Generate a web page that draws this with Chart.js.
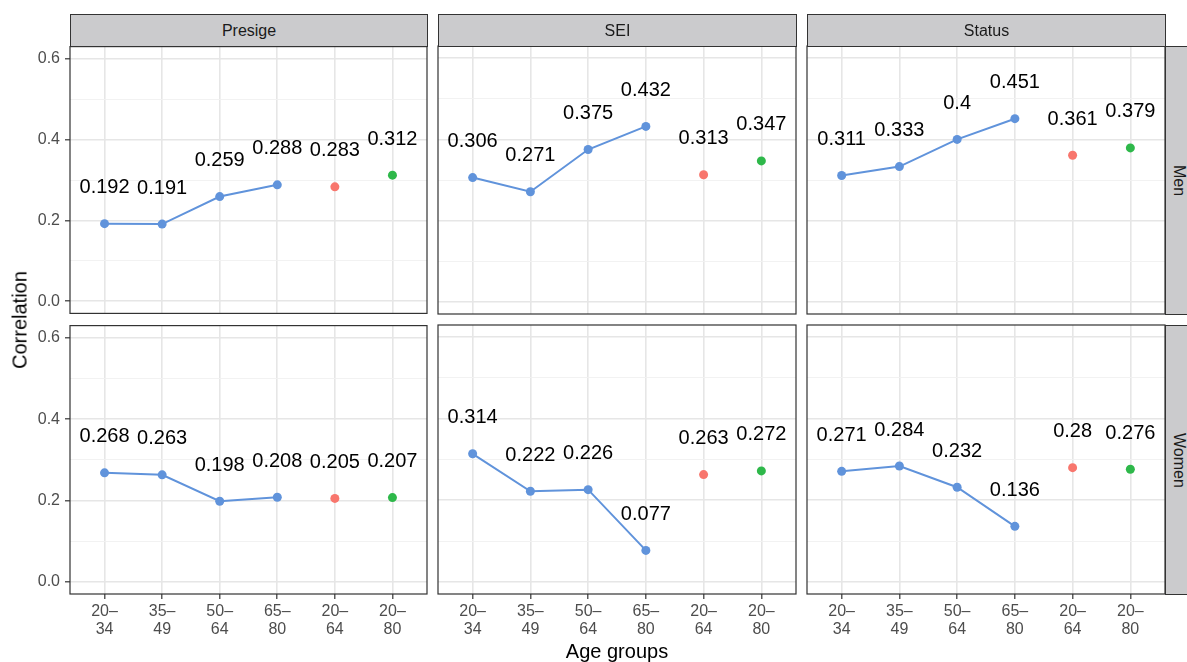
<!DOCTYPE html>
<html>
<head>
<meta charset="utf-8">
<script src="https://cdn.jsdelivr.net/npm/chart.js@4.4.1/dist/chart.umd.min.js"></script>
<style>
  body { margin: 0; width: 1187px; height: 662px; overflow: hidden; background: #fff;
         position: relative; font-family: "Liberation Sans", Arial, sans-serif; }
  canvas { position: absolute; }
  .strip { position: absolute; box-sizing: border-box; background: #cbcbcd;
           border: 1.2px solid #333; color: #1a1a1a; font-size: 16px;
           display: flex; align-items: center; justify-content: center; }
  .strip.row span { writing-mode: vertical-rl; }
  .axis-title { position: absolute; color: #000; font-size: 20px; white-space: nowrap; }
</style>
</head>
<body>
<script>
// ── Data
const AGE_GROUPS = ['20–34', '35–49', '50–64', '65–80', '20–64', '20–80'];
const MEASURES   = ['Presige', 'SEI', 'Status'];
const SEXES      = ['Men', 'Women'];

const MEN_PRESIGE   = [0.192, 0.191, 0.259, 0.288, 0.283, 0.312];
const MEN_SEI       = [0.306, 0.271, 0.375, 0.432, 0.313, 0.347];
const MEN_STATUS    = [0.311, 0.333, 0.4,   0.451, 0.361, 0.379];
const WOMEN_PRESIGE = [0.268, 0.263, 0.198, 0.208, 0.205, 0.207];
const WOMEN_SEI     = [0.314, 0.222, 0.226, 0.077, 0.263, 0.272];
const WOMEN_STATUS  = [0.271, 0.284, 0.232, 0.136, 0.28,  0.276];

const Y_GRID   = [0, 0.1, 0.2, 0.3, 0.4, 0.5, 0.6];
const Y_LABELS = [0, 0.2, 0.4, 0.6];

const ROWS = [
  [MEN_PRESIGE, MEN_SEI, MEN_STATUS],
  [WOMEN_PRESIGE, WOMEN_SEI, WOMEN_STATUS],
];

// ── Colours
const BLUE  = '#6093db';
const RED   = '#f8766d';
const GREEN = '#2eb84a';
const FONT  = '"Liberation Sans", Arial, sans-serif';

// ── Panel geometry (ggplot facet grid)
const PANEL_X = [70, 438, 807];
const PANEL_W = [357, 358, 358];
const PANEL_Y = [46, 325];
const PANEL_H = [268, 269];

// value text above each point
const valueLabels = {
  id: 'valueLabels',
  afterDatasetsDraw(chart) {
    const ctx = chart.ctx;
    ctx.save();
    ctx.font = '20px ' + FONT;
    ctx.fillStyle = '#000';
    ctx.textAlign = 'center';
    ctx.textBaseline = 'middle';
    chart.data.datasets.forEach((ds, i) => {
      chart.getDatasetMeta(i).data.forEach((pt, j) => {
        ctx.fillText(String(ds.data[j].y), pt.x, pt.y - 36);
      });
    });
    ctx.restore();
  }
};

// grey panel outline
const panelBorder = {
  id: 'panelBorder',
  afterDraw(chart) {
    const a = chart.chartArea, ctx = chart.ctx;
    ctx.save();
    ctx.strokeStyle = '#333';
    ctx.lineWidth = 1.2;
    ctx.strokeRect(a.left, a.top, a.right - a.left, a.bottom - a.top);
    ctx.restore();
  }
};

function makePanel(r, c) {
  const vals = ROWS[r][c];
  const left = c === 0 ? 0 : PANEL_X[c] - 4;
  const L = PANEL_X[c] - left;
  const T = 14, R = 4;
  const B = r === 1 ? 52 : 14;

  const canvas = document.createElement('canvas');
  canvas.width  = L + PANEL_W[c] + R;
  canvas.height = T + PANEL_H[r] + B;
  canvas.style.left = left + 'px';
  canvas.style.top  = (PANEL_Y[r] - T) + 'px';
  document.body.appendChild(canvas);

  const pts = vals.map((v, i) => ({ x: i + 1, y: v }));
  const isMajor = v => Y_LABELS.some(m => Math.abs(m - v) < 1e-9);

  new Chart(canvas, {
    type: 'line',
    data: {
      datasets: [
        { data: pts.slice(0, 4), borderColor: BLUE, borderWidth: 2,
          pointRadius: 4.5, pointBackgroundColor: BLUE, pointBorderWidth: 0, tension: 0 },
        { data: [pts[4]], showLine: false,
          pointRadius: 4.5, pointBackgroundColor: RED, pointBorderWidth: 0 },
        { data: [pts[5]], showLine: false,
          pointRadius: 4.5, pointBackgroundColor: GREEN, pointBorderWidth: 0 },
      ],
    },
    options: {
      responsive: false,
      animation: false,
      events: [],
      layout: { autoPadding: false, padding: { top: T, right: R, left: 0, bottom: 0 } },
      plugins: { legend: { display: false }, tooltip: { enabled: false } },
      scales: {
        x: {
          type: 'linear', min: 0.4, max: 6.6,
          afterBuildTicks: s => { s.ticks = AGE_GROUPS.map((g, i) => ({ value: i + 1 })); },
          afterFit: s => { s.height = B; },
          border: { display: false },
          grid: { color: '#e6e6e6', lineWidth: 1.6, drawTicks: r === 1,
                  tickLength: 5, tickColor: '#333', tickWidth: 1.2 },
          ticks: {
            display: r === 1, autoSkip: false, maxRotation: 0, padding: 3,
            color: '#4d4d4d', font: { family: FONT, size: 16, lineHeight: 1.15 },
            callback: v => {
              const [a, b] = AGE_GROUPS[Math.round(v) - 1].split('–');
              return [a + '–', b];
            },
          },
        },
        y: {
          type: 'linear', min: -0.03, max: 0.63,
          afterBuildTicks: s => { s.ticks = Y_GRID.map(v => ({ value: v })); },
          afterFit: s => { s.width = L; },
          border: { display: false },
          grid: {
            color: ctx => isMajor(ctx.tick.value) ? '#e6e6e6' : '#f0f0f0',
            lineWidth: ctx => isMajor(ctx.tick.value) ? 1.6 : 0.9,
            drawTicks: c === 0, tickLength: 5, tickWidth: 1.2,
            tickColor: ctx => isMajor(ctx.tick.value) ? '#333' : 'rgba(0,0,0,0)',
          },
          ticks: {
            display: c === 0, padding: 5, color: '#4d4d4d',
            font: { family: FONT, size: 16 },
            callback: v => isMajor(v) ? v.toFixed(1) : '',
          },
        },
      },
    },
    plugins: [valueLabels, panelBorder],
  });
}

for (let r = 0; r < 2; r++) {
  for (let c = 0; c < 3; c++) makePanel(r, c);
}

// ── Column strips
MEASURES.forEach((m, c) => {
  const d = document.createElement('div');
  d.className = 'strip';
  d.style.cssText = `left:${PANEL_X[c]}px;top:14px;width:${PANEL_W[c] + 1}px;height:33px;`;
  d.textContent = m;
  document.body.appendChild(d);
});

// ── Row strips
SEXES.forEach((s, r) => {
  const d = document.createElement('div');
  d.className = 'strip row';
  d.style.cssText = `left:1165px;top:${PANEL_Y[r]}px;width:28px;height:${PANEL_H[r] + 1}px;`;
  d.innerHTML = `<span>${s}</span>`;
  document.body.appendChild(d);
});

// ── Axis titles
const xt = document.createElement('div');
xt.className = 'axis-title';
xt.textContent = 'Age groups';
xt.style.cssText = 'left:617px;top:640px;transform:translateX(-50%);';
document.body.appendChild(xt);

const yt = document.createElement('div');
yt.className = 'axis-title';
yt.textContent = 'Correlation';
yt.style.cssText = 'left:20px;top:320px;transform:translate(-50%,-50%) rotate(-90deg);';
document.body.appendChild(yt);
</script>
</body>
</html>
